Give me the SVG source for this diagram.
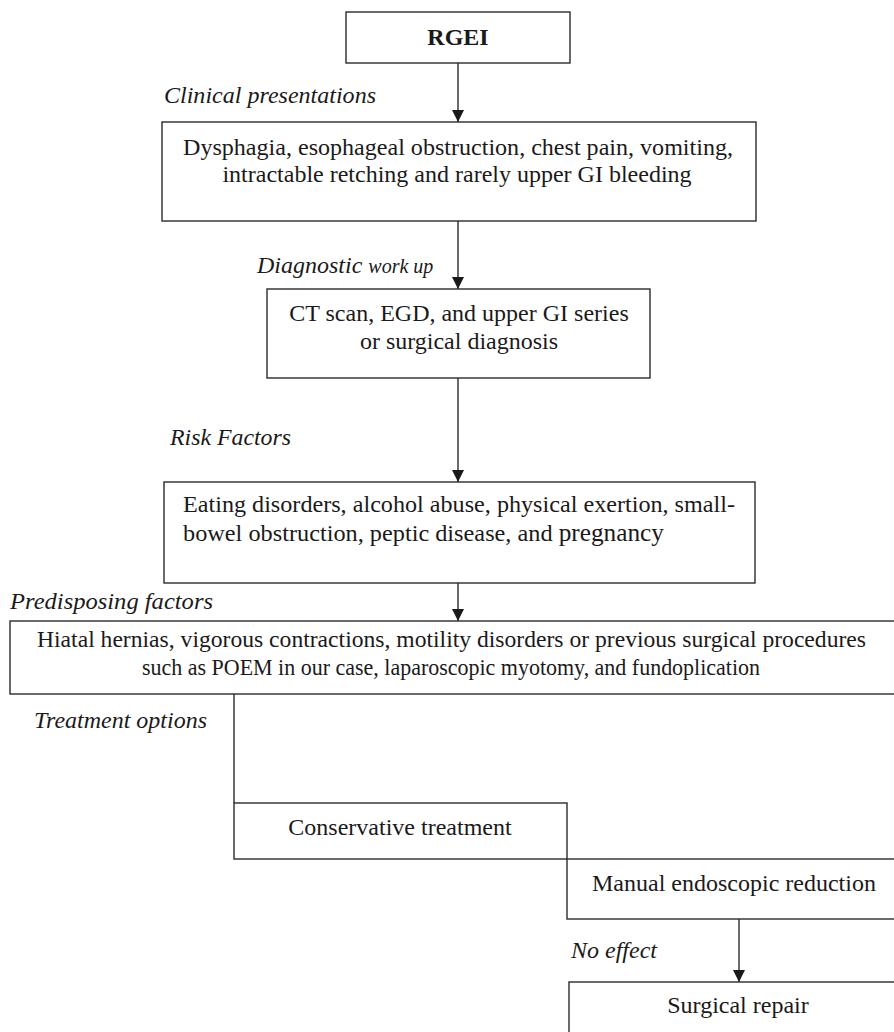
<svg xmlns="http://www.w3.org/2000/svg" width="894" height="1032" viewBox="0 0 894 1032">
<style>
.box{fill:#fff;stroke:#2b2b2b;stroke-width:1.4}
.t{font-family:"Liberation Serif","Times New Roman",serif;font-size:24px;fill:#1a1a1a}
.c{text-anchor:middle}
.i{font-style:italic}
.b{font-weight:bold}
.edge{stroke:#2b2b2b;stroke-width:1.4;fill:none}
</style>
<defs>
<marker id="arr" viewBox="0 0 12 14" refX="12" refY="7" markerWidth="12" markerHeight="14" markerUnits="userSpaceOnUse" orient="auto">
<path d="M0,1 L12,7 L0,13 Z" fill="#1a1a1a"/>
</marker>
</defs>
<rect width="894" height="1032" fill="#fff"/>
<g id="connectors">
<line class="edge" x1="458" y1="63" x2="458" y2="122" marker-end="url(#arr)"/>
<line class="edge" x1="458" y1="221" x2="458" y2="289" marker-end="url(#arr)"/>
<line class="edge" x1="458" y1="378" x2="458" y2="482" marker-end="url(#arr)"/>
<line class="edge" x1="458" y1="583" x2="458" y2="621" marker-end="url(#arr)"/>
<line class="edge" x1="234" y1="694" x2="234" y2="803"/>
<line class="edge" x1="739" y1="919" x2="739" y2="982" marker-end="url(#arr)"/>
</g>
<g id="labels">
<text class="t i" x="164" y="103" textLength="212" lengthAdjust="spacingAndGlyphs">Clinical presentations</text>
<text class="t i" x="257" y="273">Diagnostic <tspan font-size="20">work up</tspan></text>
<text class="t i" x="170" y="445" textLength="121" lengthAdjust="spacingAndGlyphs">Risk Factors</text>
<text class="t i" x="10" y="609" textLength="203" lengthAdjust="spacingAndGlyphs">Predisposing factors</text>
<text class="t i" x="34" y="728" textLength="173" lengthAdjust="spacingAndGlyphs">Treatment options</text>
<text class="t i" x="571" y="958">No effect</text>
</g>
<g id="node-rgei">
<rect class="box" x="346" y="12" width="224" height="51"/>
<text class="t b c" x="458" y="45" font-size="22">RGEI</text>
</g>
<g id="node-clinical">
<rect class="box" x="162" y="122" width="594" height="99"/>
<text class="t c" x="458" y="155" textLength="550" lengthAdjust="spacingAndGlyphs">Dysphagia, esophageal obstruction, chest pain, vomiting,</text>
<text class="t c" x="457" y="182">intractable retching and rarely upper GI bleeding</text>
</g>
<g id="node-diagnostic">
<rect class="box" x="267" y="289" width="383" height="89"/>
<text class="t c" x="459" y="321">CT scan, EGD, and upper GI series</text>
<text class="t c" x="459" y="349">or surgical diagnosis</text>
</g>
<g id="node-risk">
<rect class="box" x="164" y="482" width="591" height="101"/>
<text class="t" x="183" y="512" textLength="552" lengthAdjust="spacingAndGlyphs">Eating disorders, alcohol abuse, physical exertion, small-</text>
<text class="t" x="183" y="541" textLength="481" lengthAdjust="spacingAndGlyphs">bowel obstruction, peptic disease, and <tspan font-size="25">pregnancy</tspan></text>
</g>
<g id="node-predisposing">
<rect class="box" x="10" y="621" width="890" height="73"/>
<text class="t" x="37" y="647" textLength="829" lengthAdjust="spacingAndGlyphs">Hiatal hernias, vigorous contractions, motility disorders or previous surgical procedures</text>
<text class="t" x="142" y="675" textLength="618" lengthAdjust="spacingAndGlyphs">such as POEM in our case, laparoscopic myotomy, and fundoplication</text>
</g>
<g id="node-conservative">
<rect class="box" x="234" y="803" width="333" height="56"/>
<text class="t c" x="400" y="835">Conservative treatment</text>
</g>
<g id="node-manual">
<rect class="box" x="567" y="859" width="340" height="60"/>
<text class="t c" x="734" y="891">Manual endoscopic reduction</text>
</g>
<g id="node-surgical">
<rect class="box" x="569" y="982" width="340" height="60"/>
<text class="t c" x="738" y="1013">Surgical repair</text>
</g>
</svg>
